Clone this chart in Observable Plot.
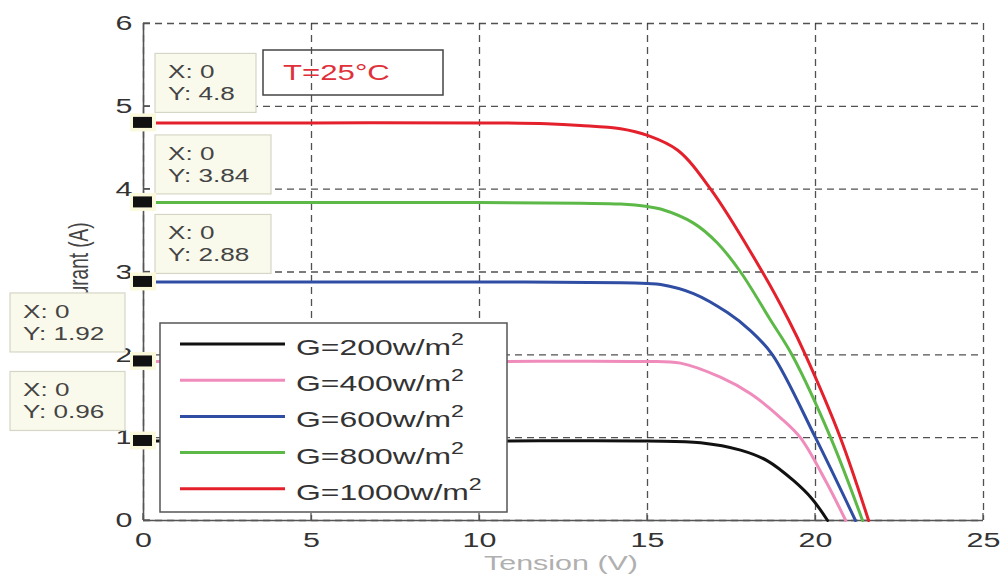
<!DOCTYPE html>
<html><head><meta charset="utf-8">
<script src="https://cdn.jsdelivr.net/npm/d3@7"></script>
<script src="https://cdn.jsdelivr.net/npm/@observablehq/plot@0.6"></script>
<style>body{margin:0;background:#fff} svg{font-family:"Liberation Sans",Arial,sans-serif}</style>
</head><body><div id="chart"></div>
<script>
const xTicks = [0, 5, 10, 15, 20, 25];
const yTicks = [0, 1, 2, 3, 4, 5, 6];
const seriesNames = ["G=200w/m", "G=400w/m", "G=600w/m", "G=800w/m", "G=1000w/m"];
const seriesColors = ["#111111", "#f08cbc", "#2e4da3", "#5cb947", "#e3202b"];

const v200 = [0, 5, 10, 15, 16.58, 17.77, 18.57, 19.35, 19.9, 20.36];
const i200 = [0.96, 0.96, 0.96, 0.96, 0.94, 0.85, 0.72, 0.48, 0.26, 0];
const v400 = [0, 5, 10, 14.79, 15.98, 17.17, 18.07, 18.96, 19.55, 20.3, 20.9];
const i400 = [1.92, 1.92, 1.92, 1.92, 1.90, 1.73, 1.53, 1.24, 1.0, 0.48, 0];
const v600 = [0, 5, 10, 14.2, 15, 15.39, 16.37, 17.38, 18.07, 18.72, 20.0, 21.19];
const i600 = [2.88, 2.88, 2.88, 2.87, 2.86, 2.85, 2.74, 2.51, 2.29, 2.0, 1.0, 0];
const v800 = [0, 5, 10, 13, 14.2, 15, 15.39, 16.37, 17.08, 17.77, 18.66, 19.3, 20.45, 21.4];
const i800 = [3.84, 3.84, 3.84, 3.83, 3.82, 3.79, 3.76, 3.59, 3.35, 3.0, 2.42, 2.0, 1.0, 0];
const v1000 = [0, 5, 10, 12, 13, 14.2, 15, 15.9, 16.88, 18.42, 19.2, 19.7, 20.74, 21.58];
const i1000 = [4.8, 4.8, 4.8, 4.79, 4.77, 4.73, 4.65, 4.47, 4.0, 3.0, 2.42, 2.0, 1.0, 0];

const tipValues = [4.8, 3.84, 2.88, 1.92, 0.96];
const tipX = 0;
const tempLabel = "T=25°C";
const xLabel = "Tension (V)";
const yLabel = "Courant (A)";

const seriesV = [v200, v400, v600, v800, v1000];
const seriesI = [i200, i400, i600, i800, i1000];
const rows = [];
seriesNames.forEach((s, k) => seriesV[k].forEach((v, j) => rows.push({V: v, I: seriesI[k][j], s})));

const dash = {stroke: "#333", strokeOpacity: 0.85, strokeDasharray: "7,5", strokeWidth: 1.3};
const plot = Plot.plot({
  width: 1002, height: 574,
  marginLeft: 143, marginRight: 19, marginTop: 23, marginBottom: 54,
  x: {domain: [0, 25]},
  y: {domain: [0, 6]},
  color: {domain: seriesNames, range: seriesColors},
  style: {fontFamily: "Liberation Sans, Arial, sans-serif", color: "#333", background: "#fff", overflow: "visible"},
  marks: [
    Plot.gridX(xTicks, dash),
    Plot.gridY(yTicks, dash),
    Plot.ruleX([0], {stroke: "#555", strokeWidth: 1.6}),
    Plot.ruleY([0], {stroke: "#555", strokeWidth: 1.6}),
    Plot.axisX(xTicks, {tickSize: 0, tickPadding: 12, label: null, tickFormat: d => String(d)}),
    Plot.axisY(yTicks, {tickSize: 0, tickPadding: 11, label: null, tickFormat: d => String(d)}),
    Plot.line(rows, {x: "V", y: "I", z: "s", stroke: "s", strokeWidth: 3, curve: "catmull-rom"})
  ]
});
document.getElementById("chart").appendChild(plot);

const STRETCH = 1.45; // the reference's lettering is wide
const sx = plot.scale("x"), sy = plot.scale("y");
const svg = d3.select(plot);
svg.selectAll('g[aria-label$="tick label"]').attr("font-size", 21).attr("fill", "#333");
svg.selectAll('g[aria-label$="tick label"] text').each(function () {
  const tr = this.getAttribute("transform") || "";
  this.setAttribute("transform", `${tr} scale(${STRETCH},1)`);
});
const X = v => sx.apply(v), Y = v => sy.apply(v);

function label(parent, x, y, str, size, fill, anchor = "start", rot = 0) {
  const t = parent.append("text")
    .attr("transform", `translate(${x},${y}) scale(${STRETCH},1)` + (rot ? ` rotate(${rot})` : ""))
    .attr("text-anchor", anchor).attr("font-size", size).attr("fill", fill);
  if (str != null) t.text(str);
  return t;
}

// inward ticks
const tg = svg.append("g").attr("stroke", "#555").attr("stroke-width", 1.3);
xTicks.forEach(t => tg.append("line").attr("x1", X(t)).attr("x2", X(t)).attr("y1", Y(0)).attr("y2", Y(0) - 7));
yTicks.forEach(t => tg.append("line").attr("x1", X(0)).attr("x2", X(0) + 7).attr("y1", Y(t)).attr("y2", Y(t)));

// axis labels
label(svg, (X(0) + X(25)) / 2 - 2, 570, xLabel, 21, "#b0b0b0", "middle");
label(svg, 88, (Y(0) + Y(6)) / 2, yLabel, 19, "#444", "middle", -90);

// temperature annotation
svg.append("rect").attr("x", 263).attr("y", 50).attr("width", 180).attr("height", 45)
  .attr("fill", "none").attr("stroke", "#444").attr("stroke-width", 1.5);
label(svg, 283, 80, tempLabel, 21.5, "#e0303a");

// legend
const lg = svg.append("g");
lg.append("rect").attr("x", 160).attr("y", 323).attr("width", 347).attr("height", 189)
  .attr("fill", "#fff").attr("stroke", "#555").attr("stroke-width", 1.5);
seriesNames.forEach((s, k) => {
  const yy = 344 + k * 36.2;
  lg.append("line").attr("x1", 180).attr("x2", 285).attr("y1", yy).attr("y2", yy)
    .attr("stroke", seriesColors[k]).attr("stroke-width", 3);
  const t = label(lg, 296, yy + 11, null, 22, "#333");
  t.append("tspan").text(s);
  t.append("tspan").attr("dy", -10).attr("font-size", 16).text("2");
});

// data tips
const tipBoxes = [
  {dx: 12, dy: -69, w: 101},
  {dx: 12, dy: -67, w: 116},
  {dx: 12, dy: -67, w: 116},
  {dx: -133, dy: -68, w: 115},
  {dx: -133, dy: -69, w: 115}
];
tipValues.forEach((val, k) => {
  const cx = X(tipX), cy = Y(val), b = tipBoxes[k];
  const g = svg.append("g");
  g.append("rect").attr("x", cx + b.dx).attr("y", cy + b.dy).attr("width", b.w).attr("height", 59)
    .attr("fill", "#fafaec").attr("stroke", "#d6d6c6").attr("stroke-width", 1.2);
  label(g, cx + b.dx + 13, cy + b.dy + 25, "X: " + tipX, 18, "#444");
  label(g, cx + b.dx + 13, cy + b.dy + 47, "Y: " + val, 18, "#444");
  g.append("rect").attr("x", cx - 13).attr("y", cy - 9).attr("width", 26).attr("height", 18).attr("fill", "#fbf9dc");
  g.append("rect").attr("x", cx - 10).attr("y", cy - 5.5).attr("width", 19).attr("height", 11).attr("fill", "#111");
});
</script></body></html>
